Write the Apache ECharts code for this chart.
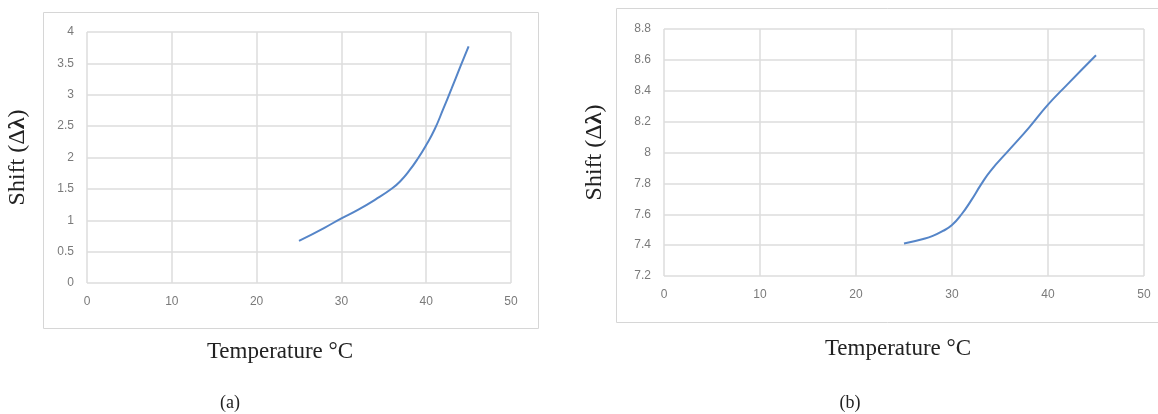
<!DOCTYPE html>
<html>
<head>
<meta charset="utf-8">
<script src="https://cdn.jsdelivr.net/npm/echarts@6/dist/echarts.min.js"></script>
<style>
html,body{margin:0;padding:0;background:#fff;}
#c{width:1158px;height:414px;}
</style>
</head>
<body>
<div id="c"></div>
<script>
// Panel (a)
const tempA = [25, 28, 30, 32, 34, 36, 37, 38, 39, 40, 41, 42, 43, 44, 45];
const shiftA = [0.67, 0.88, 1.03, 1.17, 1.33, 1.51, 1.63, 1.79, 1.98, 2.2, 2.45, 2.77, 3.1, 3.44, 3.77];
// Panel (b)
const tempB = [25, 27, 28, 29, 30, 31, 32, 33, 34, 36, 38, 40, 42, 45];
const shiftB = [7.41, 7.44, 7.46, 7.49, 7.53, 7.6, 7.69, 7.79, 7.88, 8.02, 8.16, 8.31, 8.44, 8.63];
const xTicks = [0, 10, 20, 30, 40, 50];
const xTitle = 'Temperature °C';
const panelLabels = ['(a)', '(b)'];

const gridColor = '#dcdcdc';
const labelColor = '#7a7a7a';
const serif = '"Liberation Serif", "DejaVu Serif", serif';
const fmt = v => String(Math.round(v * 10) / 10);

function xAxisCfg(gi) {
  return {
    type: 'value', gridIndex: gi, min: xTicks[0], max: xTicks[xTicks.length - 1], interval: 10,
    axisLine: {show: false}, axisTick: {show: false},
    splitLine: {show: true, lineStyle: {color: gridColor, width: 1.5}},
    axisLabel: {color: labelColor, fontSize: 12, fontFamily: '"Liberation Sans", Arial, sans-serif', margin: 13, formatter: fmt}
  };
}
function yAxisCfg(gi, min, max, interval) {
  return {
    type: 'value', gridIndex: gi, min: min, max: max, interval: interval,
    axisLine: {show: false}, axisTick: {show: false},
    splitLine: {show: true, lineStyle: {color: gridColor, width: 1.5}},
    axisLabel: {color: labelColor, fontSize: 12, fontFamily: '"Liberation Sans", Arial, sans-serif', margin: 13, formatter: fmt},
    name: '{n|Shift (Δ}{b|λ}{n|)}',
    nameLocation: 'middle', nameRotate: 90, nameGap: 57,
    nameTextStyle: {
      rich: {
        n: {fontFamily: serif, fontSize: 24, color: '#222'},
        b: {fontFamily: serif, fontSize: 24, color: '#222', fontWeight: 'bold'}
      }
    }
  };
}

const chart = echarts.init(document.getElementById('c'));
chart.setOption({
  animation: false,
  backgroundColor: '#fff',
  grid: [
    {left: 87, right: 1158 - 511, top: 32, bottom: 414 - 283},
    {left: 664, right: 1158 - 1144, top: 29, bottom: 414 - 276}
  ],
  xAxis: [xAxisCfg(0), xAxisCfg(1)],
  yAxis: [yAxisCfg(0, 0, 4, 0.5), yAxisCfg(1, 7.2, 8.8, 0.2)],
  series: [
    {
      type: 'line', xAxisIndex: 0, yAxisIndex: 0, smooth: 0.5, symbol: 'none',
      lineStyle: {color: '#5585c8', width: 2},
      data: tempA.map((t, i) => [t, shiftA[i]])
    },
    {
      type: 'line', xAxisIndex: 1, yAxisIndex: 1, smooth: 0.5, symbol: 'none',
      lineStyle: {color: '#5585c8', width: 2},
      data: tempB.map((t, i) => [t, shiftB[i]])
    }
  ],
  graphic: [
    {type: 'rect', shape: {x: 43.5, y: 12.5, width: 495, height: 316}, style: {fill: 'none', stroke: '#d6d6d6', lineWidth: 1}, z: -1},
    {type: 'rect', shape: {x: 616.5, y: 8.5, width: 560, height: 314}, style: {fill: 'none', stroke: '#d6d6d6', lineWidth: 1}, z: -1},
    {type: 'text', x: 280, y: 352, style: {text: xTitle, font: '23px ' + serif, fill: '#222', textAlign: 'center', textVerticalAlign: 'middle'}},
    {type: 'text', x: 898, y: 349, style: {text: xTitle, font: '23px ' + serif, fill: '#222', textAlign: 'center', textVerticalAlign: 'middle'}},
    {type: 'text', x: 230, y: 403, style: {text: panelLabels[0], font: '18px ' + serif, fill: '#222', textAlign: 'center', textVerticalAlign: 'middle'}},
    {type: 'text', x: 850, y: 403, style: {text: panelLabels[1], font: '18px ' + serif, fill: '#222', textAlign: 'center', textVerticalAlign: 'middle'}}
  ]
});
</script>
</body>
</html>
